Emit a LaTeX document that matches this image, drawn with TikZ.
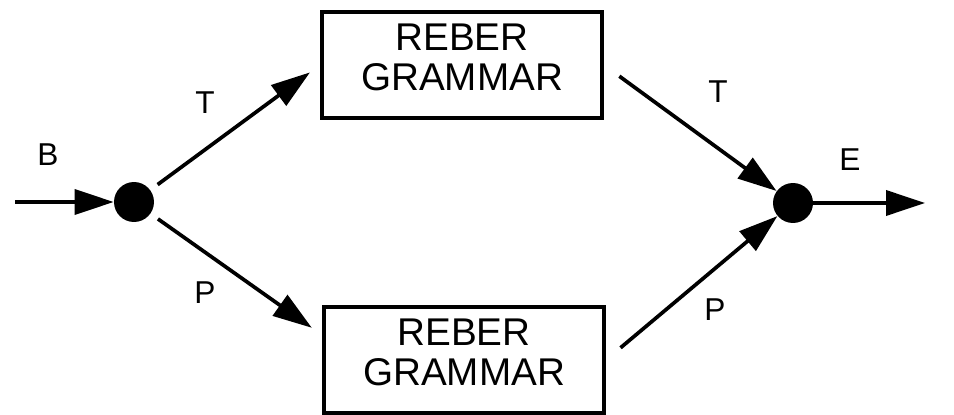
\documentclass[tikz,border=0pt]{standalone}
\usepackage{fontspec}
\setmainfont{Liberation Sans}
\usetikzlibrary{arrows.meta,calc}

\tikzset{
  grammarbox/.style={draw, line width=2.3pt, minimum width=5.6cm, minimum height=2.12cm,
    inner sep=0pt, align=center, text depth=0.32cm, font=\fontsize{22}{22.7}\selectfont},
  junction/.style={circle, fill=black, minimum size=0.8cm, inner sep=0pt},
  flow/.style={line width=2.1pt, -{Triangle[length=0.78cm,width=0.5cm]}},
  sym/.style={font=\fontsize{18}{18}\selectfont},
}

\begin{document}
\begin{tikzpicture}[x=0.02cm,y=-0.02cm]
    \useasboundingbox (0,0) rectangle (954,415);

    % junctions and the two grammar blocks
    \node[junction] (ldot) at (134,202) {};
    \node[junction] (rdot) at (793,203) {};
    \node[grammarbox] (tbox) at (462,65) {REBER\\GRAMMAR};
    \node[grammarbox] (bbox) at (464,360) {REBER\\GRAMMAR};

    \coordinate (in) at (15,202);
    \coordinate (out) at (925,203);

    % connectors
    \draw[flow] (in) -- (ldot);
    \draw[flow, shorten <=0.18cm, shorten >=0.25cm] (ldot) -- (tbox.west);
    \draw[flow, shorten <=0.18cm, shorten >=0.25cm] (ldot) -- ($(bbox.west)+(0,-25)$);
    \draw[flow, shorten <=0.38cm] (tbox.east) -- (rdot);
    \draw[flow, shorten <=0.38cm] (bbox.east) -- (rdot);
    \draw[flow] (rdot) -- (out);

    % symbols
    \node[sym] (symB) at (48,155) {B};
    \node[sym] (symT1) at (205,103) {T};
    \node[sym] (symP1) at (205,293) {P};
    \node[sym] (symT2) at (718,92) {T};
    \node[sym] (symP2) at (715,310) {P};
    \node[sym] (symE) at (850,160) {E};
\end{tikzpicture}
\end{document}
